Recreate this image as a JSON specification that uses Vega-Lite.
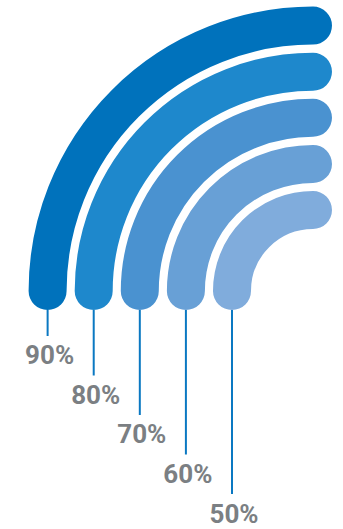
{
  "$schema": "https://vega.github.io/schema/vega-lite/v6.json",
  "width": 343,
  "height": 529,
  "autosize": {"type": "fit", "contains": "padding"},
  "padding": 0,
  "background": "white",
  "config": {"view": {"stroke": null}},
  "data": {
    "values": [
      {"label": "90%", "value": 90},
      {"label": "80%", "value": 80},
      {"label": "70%", "value": 70},
      {"label": "60%", "value": 60},
      {"label": "50%", "value": 50}
    ]
  },
  "encoding": {
    "x": {"field": "value", "type": "quantitative", "scale": {"domain": [25.92, 100.33], "reverse": true, "nice": false, "zero": false}, "axis": null},
    "y": {"field": "value", "type": "quantitative", "scale": {"domain": [45.95, 179.87], "nice": false, "zero": false}, "axis": null}
  },
  "layer": [
    {
      "mark": {"type": "rule", "stroke": "#0A78C2", "strokeWidth": 2, "yOffset": -19},
      "encoding": {
        "y2": {"value": {"expr": "scale('y', 101.39)"}}
      }
    },
    {
      "mark": {"type": "text", "font": "Roboto", "fontSize": 26, "fontWeight": "bold", "color": "#7B7F83", "align": "center", "baseline": "alphabetic", "dx": 2, "dy": 9.5},
      "encoding": {
        "text": {"field": "label"}
      }
    },
    {
      "mark": {
        "type": "arc",
        "theta": 4.71238898,
        "theta2": 6.28318531,
        "filled": false,
        "strokeWidth": 38,
        "strokeJoin": "round",
        "strokeCap": "round"
      },
      "encoding": {
        "x": {"value": {"expr": "scale('x', 32.43)"}},
        "y": {"value": {"expr": "scale('y', 106.2)"}},
        "radius": {"field": "value", "type": "quantitative", "scale": {"type": "linear", "domain": [32.43, 90], "range": [0, 265.4], "zero": false, "nice": false}},
        "radius2": {"field": "value"},
        "color": {
          "field": "label", "type": "nominal",
          "scale": {"domain": ["90%", "80%", "70%", "60%", "50%"], "range": ["#0072BC", "#1E88CC", "#4A92D0", "#68A0D6", "#80ACDC"]},
          "legend": null
        }
      }
    }
  ]
}
